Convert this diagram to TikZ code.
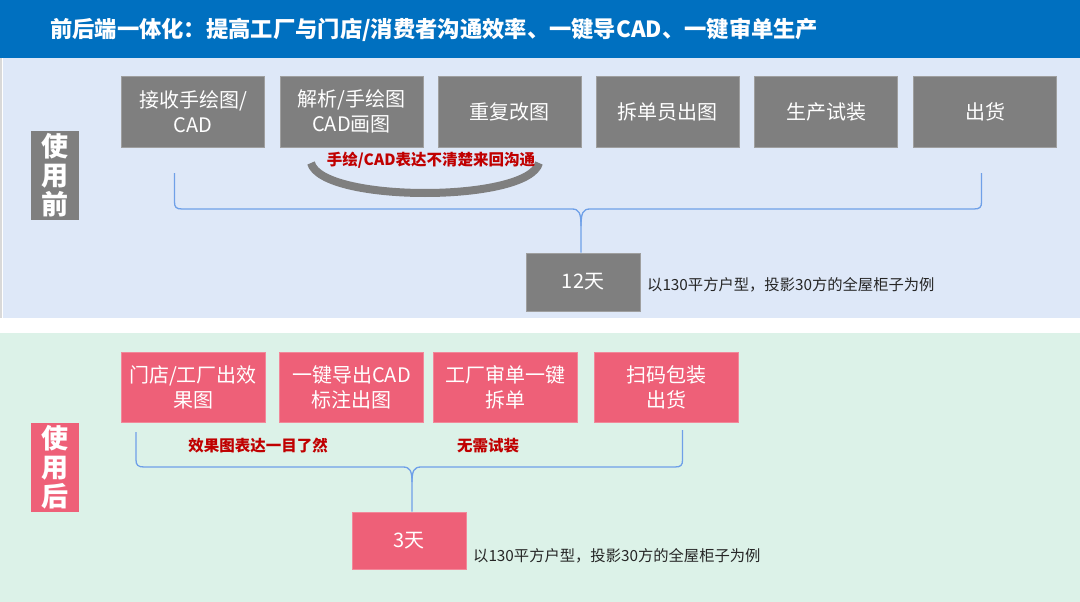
\documentclass[tikz,border=0pt]{standalone}
\usepackage{fontspec}
\setmainfont{Noto Sans CJK SC}
\definecolor{titleblue}{HTML}{0070C0}
\definecolor{bgblue}{HTML}{DEE8F8}
\definecolor{bggreen}{HTML}{DCF2E8}
\definecolor{boxgray}{HTML}{7F7F7F}
\definecolor{boxpink}{HTML}{EE6078}
\definecolor{bracecol}{HTML}{6FA0E8}
\definecolor{labred}{HTML}{C00000}
\definecolor{notecol}{HTML}{262626}
\begin{document}
\begin{tikzpicture}[x=1pt,y=-1pt,
  graybox/.style={fill=boxgray,draw=boxgray!75!white,line width=0.8pt,text=white,
    minimum width=143pt,minimum height=71pt,inner sep=0pt,align=center,
    font=\fontsize{20}{25}\selectfont},
  pinkbox/.style={fill=boxpink,draw=boxpink!75!white,line width=0.8pt,text=white,
    minimum width=144pt,minimum height=70pt,inner sep=0pt,align=center,
    font=\fontsize{20}{25}\selectfont},
  sidelabel/.style={text=white,minimum width=48pt,minimum height=89pt,inner sep=0pt,
    align=center,font=\fontsize{27}{29}\selectfont\bfseries},
  redlab/.style={text=labred,font=\fontsize{15.5}{17}\selectfont\bfseries,inner sep=0pt},
  note/.style={text=notecol,font=\fontsize{15.3}{17}\selectfont,inner sep=0pt,anchor=west},
  bracepath/.style={draw=bracecol,line width=1.3pt}
]
\useasboundingbox (0,0) rectangle (1080,602);
% backgrounds
\fill[white] (0,0) rectangle (1080,602);
\fill[bgblue] (3,58) rectangle (1080,318);
\fill[gray!30] (0,58) rectangle (2,318);
\fill[bggreen] (0,333) rectangle (1080,602);
\fill[titleblue] (0,0) rectangle (1080,58);
\node[text=white,anchor=west,inner sep=0pt,font=\fontsize{22.3}{25}\selectfont\bfseries] (title) at (50,30)
  {前后端一体化：提高工厂与门店/消费者沟通效率、一键导CAD、一键审单生产};

% before
\node[sidelabel,fill=boxgray] (before) at (55,175.5) {使\\用\\前};
\node[graybox] (a1) at (193,111.5) {接收手绘图/\\CAD};
\node[graybox] (a2) at (351.5,111.5) {解析/手绘图\\CAD画图};
\node[graybox] (a3) at (509.5,111.5) {重复改图};
\node[graybox] (a4) at (667.5,111.5) {拆单员出图};
\node[graybox] (a5) at (826,111.5) {生产试装};
\node[graybox] (a6) at (985,111.5) {出货};

\draw[boxgray,line width=8pt] (311,163) .. controls (322,203) and (528,203) .. (539,163);
\node[redlab] (loop) at (431,160) {手绘/CAD表达不清楚来回沟通};

\node[graybox,minimum width=114pt,minimum height=58pt] (d1) at (583,282) {12天};
\node[note] (n1) at (647,285) {以130平方户型，投影30方的全屋柜子为例};

\coordinate (b1l) at (174.5,173);
\coordinate (b1r) at (981.5,173);
\draw[bracepath] (b1l) -- (174.5,202) .. controls (174.5,207) and (176,209) .. (182,209)
  -- (572,209) .. controls (579,209) and (581,213) .. (581,226) -- (d1.north -| 581,0);
\draw[bracepath] (b1r) -- (981.5,202) .. controls (981.5,207) and (980,209) .. (974,209)
  -- (590,209) .. controls (583,209) and (581,213) .. (581,226);

% after
\node[sidelabel,fill=boxpink] (after) at (55,467.5) {使\\用\\后};
\node[pinkbox] (p1) at (193,387) {门店/工厂出效\\果图};
\node[pinkbox] (p2) at (351.5,387) {一键导出CAD\\标注出图};
\node[pinkbox] (p3) at (505.5,387) {工厂审单一键\\拆单};
\node[pinkbox] (p4) at (666,387) {扫码包装\\出货};

\node[redlab] (l1) at (258,446) {效果图表达一目了然};
\node[redlab] (l2) at (488,446) {无需试装};

\node[pinkbox,minimum width=114pt,minimum height=57pt] (d2) at (409,540.5) {3天};
\node[note] (n2) at (473,556) {以130平方户型，投影30方的全屋柜子为例};

\coordinate (b2l) at (136,432);
\coordinate (b2r) at (682.5,430);
\draw[bracepath] (b2l) -- (136,460) .. controls (136,465) and (138,467) .. (144,467)
  -- (403,467) .. controls (410,467) and (412,471) .. (412,482) -- (d2.north -| 412,0);
\draw[bracepath] (b2r) -- (682.5,460) .. controls (682.5,465) and (681,467) .. (675,467)
  -- (421,467) .. controls (414,467) and (412,471) .. (412,482);
\end{tikzpicture}
\end{document}
